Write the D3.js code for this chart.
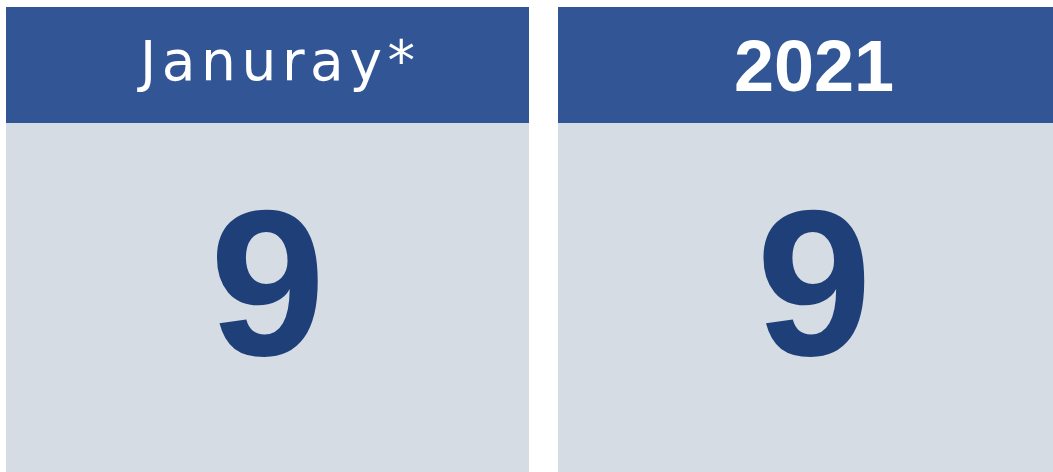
<!DOCTYPE html>
<html>
<head>
<meta charset="utf-8">
<script src="https://cdn.jsdelivr.net/npm/d3@7"></script>
<style>
  html, body { margin: 0; padding: 0; background: #ffffff; overflow: hidden; }
  svg { display: block; }
</style>
</head>
<body>
<svg id="chart" width="1053" height="472"></svg>
<script>
// Data
const labels = ["Januray*", "2021"];
const values = [9, 9];

const W = 1053, H = 472;
const svg = d3.select("#chart");

// Layout: two panels, left 6..529, right 558..(clipped)
const panelX = d3.scaleOrdinal().domain(labels).range([6, 558]);
const panelW = d3.scaleOrdinal().domain(labels).range([523, 512]);
const headerTop = 7, headerBottom = 123;

const data = labels.map((l, i) => ({ label: l, value: values[i], i }));

const g = svg.selectAll("g.panel").data(data).join("g").attr("class", "panel");

g.append("rect")
  .attr("x", d => panelX(d.label))
  .attr("y", headerTop)
  .attr("width", d => panelW(d.label))
  .attr("height", headerBottom - headerTop)
  .attr("fill", "#325695");

g.append("rect")
  .attr("x", d => panelX(d.label))
  .attr("y", headerBottom)
  .attr("width", d => panelW(d.label))
  .attr("height", H - headerBottom)
  .attr("fill", "#d5dce4");

// Header texts
g.append("text")
  .attr("x", d => panelX(d.label) + panelW(d.label) / 2 + (d.i === 0 ? 10 : 0))
  .attr("y", d => d.i === 0 ? 80 : 91)
  .attr("text-anchor", "middle")
  .attr("fill", "#ffffff")
  .style("font-family", d => d.i === 0 ? "'DejaVu Sans', sans-serif" : "'Liberation Sans', Arial, sans-serif")
  .style("font-weight", d => d.i === 0 ? "normal" : "bold")
  .style("font-size", d => d.i === 0 ? "55px" : "72px")
  .attr("textLength", d => d.i === 0 ? 275 : null)
  .attr("lengthAdjust", "spacing")
  .text(d => d.label);

// Big values
const fmt = d3.format("d");
g.append("text")
  .attr("x", d => panelX(d.label) + panelW(d.label) / 2)
  .attr("y", 355)
  .attr("text-anchor", "middle")
  .attr("fill", "#1f3f79")
  .style("font-family", "'Liberation Sans', Arial, sans-serif")
  .style("font-weight", "bold")
  .style("font-size", "208px")
  .text(d => fmt(d.value));
</script>
</body>
</html>
